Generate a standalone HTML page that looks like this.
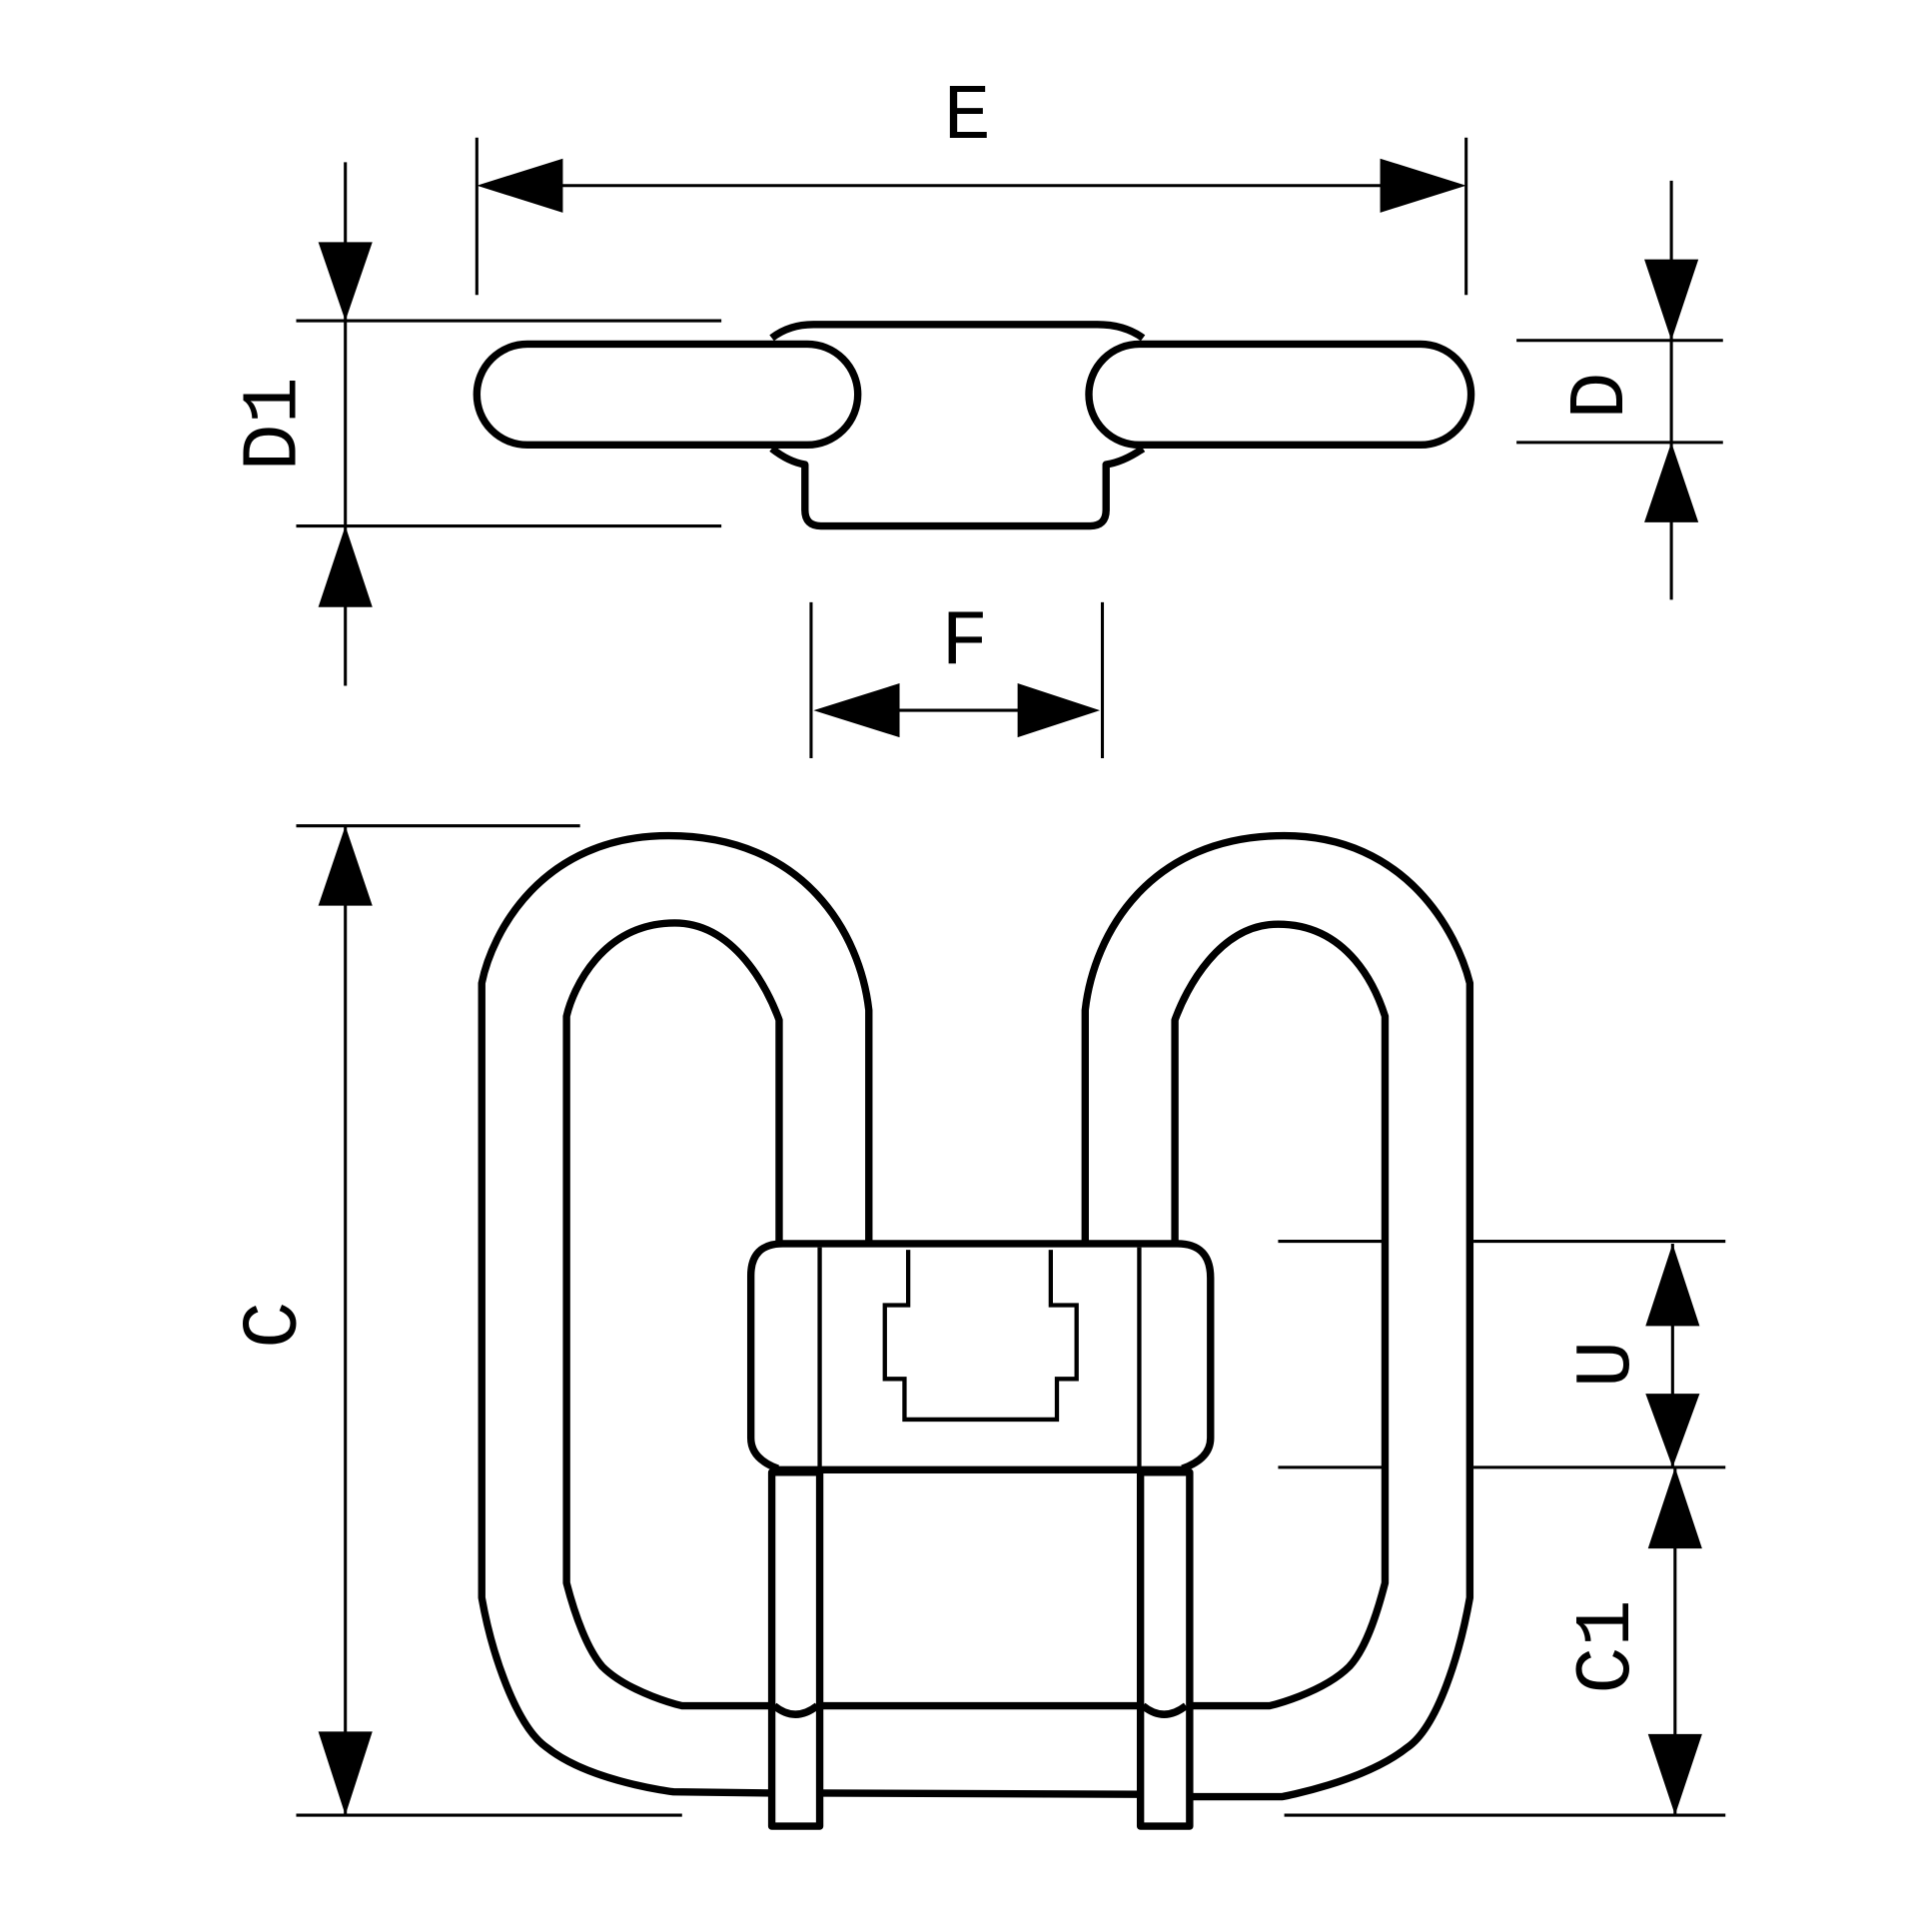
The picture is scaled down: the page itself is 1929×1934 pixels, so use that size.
<!DOCTYPE html>
<html><head><style>html,body{margin:0;padding:0;background:#fff}</style></head>
<body>
<svg width="1929" height="1929" viewBox="0 0 1568 1568" xmlns="http://www.w3.org/2000/svg">
<rect width="1568" height="1568" fill="#fff"/>
<g fill="none" stroke="#000" stroke-width="2.5">
<line x1="388" y1="112" x2="388" y2="240"/><line x1="1193" y1="112" x2="1193" y2="240"/>
<line x1="450" y1="151" x2="1130" y2="151"/>
<line x1="281" y1="132" x2="281" y2="558"/>
<line x1="241" y1="261" x2="587" y2="261"/><line x1="241" y1="428" x2="587" y2="428"/>
<line x1="1360" y1="147" x2="1360" y2="488"/>
<line x1="1234" y1="277" x2="1402" y2="277"/><line x1="1234" y1="360" x2="1402" y2="360"/>
<line x1="660" y1="490" x2="660" y2="617"/><line x1="897" y1="490" x2="897" y2="617"/>
<line x1="700" y1="578" x2="860" y2="578"/>
<line x1="281" y1="672" x2="281" y2="1477"/>
<line x1="241" y1="672" x2="472" y2="672"/><line x1="241" y1="1477" x2="555" y2="1477"/>
<line x1="1361" y1="1012" x2="1361" y2="1194"/>
<line x1="1363" y1="1194" x2="1363" y2="1477"/>
<line x1="1040" y1="1010" x2="1125" y2="1010"/><line x1="1199" y1="1010" x2="1404" y2="1010"/>
<line x1="1040" y1="1194" x2="1125" y2="1194"/><line x1="1199" y1="1194" x2="1404" y2="1194"/>
<line x1="1045" y1="1477" x2="1404" y2="1477"/>
</g>
<g fill="#000">
<polygon points="388,151 458,129 458,173"/><polygon points="1193,151 1123,129 1123,173"/>
<polygon points="281,261 259,197 303,197"/><polygon points="281,428 259,494 303,494"/>
<polygon points="1360,277 1338,211 1382,211"/><polygon points="1360,360 1338,425 1382,425"/>
<polygon points="662,578 732,556 732,600"/><polygon points="895,578 828,556 828,600"/>
<polygon points="281,672 259,737 303,737"/><polygon points="281,1477 259,1409 303,1409"/>
<polygon points="1361,1012 1339,1079 1383,1079"/><polygon points="1361,1194 1339,1134 1383,1134"/>
<polygon points="1363,1194 1341,1260 1385,1260"/><polygon points="1363,1477 1341,1411 1385,1411"/>
</g>
<g font-family="Liberation Mono, monospace" font-size="64" fill="#000" text-anchor="middle">
<text x="787" y="112">E</text>
<text x="785" y="540">F</text>
<text transform="translate(240,345) rotate(-90)">D1</text>
<text transform="translate(1320,322) rotate(-90)">D</text>
<text transform="translate(240,1078) rotate(-90)">C</text>
<text transform="translate(1325,1110) rotate(-90)">U</text>
<text transform="translate(1325,1340) rotate(-90)">C1</text>
</g>
<g fill="none" stroke="#000" stroke-width="6" stroke-linejoin="round">
<rect x="388" y="280" width="310" height="82" rx="41"/>
<rect x="886" y="280" width="311" height="82" rx="41"/>
<path d="M628,275 Q642,264 662,264 L893,264 Q915,264 930,275"/>
<path d="M628,365 Q642,376 655,378 L655,415 Q655,428 668,428 L887,428 Q900,428 900,415 L900,378 Q914,376 930,365"/>
<path d="M707,1012 L707,822 C700,760 655,680 544,680 C440,680 400,760 392,800 L392,1300 C400,1345 420,1405 445,1422 C480,1450 548,1458 548,1458 L628,1459"/>
<path d="M634,1012 L634,830 C625,805 598,751 549,751 C490,751 466,805 461,827 L461,1288 C468,1315 478,1342 490,1356 C512,1378 555,1388 555,1388 L630,1388"/>
<path d="M883,1012 L883,822 C890,760 935,680 1045,680 C1145,680 1186,760 1196,800 L1196,1300 C1188,1345 1170,1405 1145,1422 C1110,1450 1043,1462 1043,1462 L968,1462"/>
<path d="M956,1012 L956,830 C965,805 992,752 1040,752 C1098,752 1120,805 1127,827 L1127,1288 C1120,1315 1111,1342 1098,1356 C1076,1378 1033,1388 1033,1388 L968,1388"/>
<path d="M633,1195 Q611,1187 611,1170 L611,1038 Q611,1012 637,1012 L958,1012 Q985,1012 985,1040 L985,1170 Q985,1187 962,1195"/>
<line x1="630" y1="1196" x2="966" y2="1196"/>
<rect x="628" y="1198" width="39" height="288"/>
<rect x="928" y="1198" width="40" height="288"/>
<line x1="667" y1="1388" x2="928" y2="1388"/>
<line x1="667" y1="1459" x2="928" y2="1460"/>
<path d="M630,1388 Q647,1402 665,1388"/>
<path d="M930,1388 Q947,1402 965,1388"/>
</g>
<g fill="none" stroke="#000" stroke-width="3.5">
<line x1="667" y1="1015" x2="667" y2="1195"/><line x1="927" y1="1015" x2="927" y2="1195"/>
<polyline points="739,1017 739,1062 720,1062 720,1122 736,1122 736,1155 860,1155 860,1122 876,1122 876,1062 855,1062 855,1017"/>
</g>
</svg>
</body></html>
